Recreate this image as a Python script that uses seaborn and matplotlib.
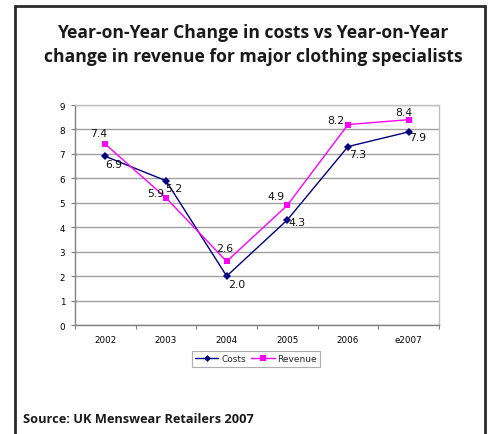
import matplotlib
matplotlib.use("Agg")
import matplotlib.pyplot as plt
import matplotlib.patches as mpatches
from matplotlib.lines import Line2D
import pandas as pd
import seaborn as sns

years = ["2002", "2003", "2004", "2005", "2006", "e2007"]
costs = [6.9, 5.9, 2.0, 4.3, 7.3, 7.9]
revenue = [7.4, 5.2, 2.6, 4.9, 8.2, 8.4]
series_names = ["Costs", "Revenue"]
y_ticks = list(range(0, 10))

title_text = ("Year-on-Year Change in costs vs Year-on-Year\n"
              "change in revenue for major clothing specialists")
source_text = "Source: UK Menswear Retailers 2007"

# label offsets in pixels (dx, dy) for each point
cost_offsets = [(8, -8), (-10, -12), (10, -8), (10, -2), (10, -7), (9, -5)]
rev_offsets = [(-7, 11), (8, 10), (-2, 13), (-11, 9), (-12, 5), (-5, 8)]

df = pd.DataFrame({
    "year": years * 2,
    "value": costs + revenue,
    "series": [series_names[0]] * len(years) + [series_names[1]] * len(years),
})

sns.set_theme(style="white")
plt.rcParams["font.family"] = ["DejaVu Sans"]

W, H = 492, 435
fig = plt.figure(figsize=(W / 100, H / 100), dpi=100)
ax = fig.add_axes([75 / W, 1 - 326 / H, (439 - 75) / W, (326 - 106) / H])

palette = {"Costs": "#000080", "Revenue": "#FF00FF"}
markers = {"Costs": "D", "Revenue": "s"}
sns.lineplot(data=df, x="year", y="value", hue="series", style="series",
             palette=palette, markers=markers, dashes=False, sort=False,
             linewidth=1.0, markersize=4.5, markeredgewidth=0,
             legend=False, ax=ax)
# make the diamonds a bit smaller than the squares
for ln in ax.get_lines():
    if ln.get_marker() == "D":
        ln.set_markersize(3.8)

ax.set_xlim(-0.5, len(years) - 0.5)
ax.set_ylim(0, 9)
ax.set_yticks(y_ticks)
ax.set_xticks(range(len(years)))
ax.set_xticklabels(years)
ax.set_xticks([i + 0.5 for i in range(-1, len(years))], minor=True)
ax.set_xlabel("")
ax.set_ylabel("")

ax.yaxis.grid(True, color="#a0a0a0", linewidth=1.0)
ax.set_axisbelow(True)
ax.tick_params(axis="x", which="major", length=0, labelsize=6.3, pad=7,
               colors="#000000")
ax.tick_params(axis="x", which="minor", length=3, width=0.8, color="#808080",
               bottom=True)
ax.tick_params(axis="y", length=3, width=0.8, color="#808080", labelsize=6.3,
               pad=4, left=True, labelcolor="#000000")
for side in ["left", "bottom"]:
    ax.spines[side].set_color("#808080")
    ax.spines[side].set_linewidth(1.0)
for side in ["top", "right"]:
    ax.spines[side].set_color("#c0c0c0")
    ax.spines[side].set_linewidth(1.0)

# value labels
for i, v in enumerate(costs):
    dx, dy = cost_offsets[i]
    ax.annotate(f"{v:.1f}", (i, v), xytext=(dx, dy), textcoords="offset pixels",
                ha="center", va="center", fontsize=7.8, color="#111111")
for i, v in enumerate(revenue):
    dx, dy = rev_offsets[i]
    ax.annotate(f"{v:.1f}", (i, v), xytext=(dx, dy), textcoords="offset pixels",
                ha="center", va="center", fontsize=7.8, color="#111111")

# legend
handles = [
    Line2D([], [], color=palette["Costs"], marker="D", markersize=3.5,
           markeredgewidth=0, linewidth=1.0, label="Costs"),
    Line2D([], [], color=palette["Revenue"], marker="s", markersize=4,
           markeredgewidth=0, linewidth=1.0, label="Revenue"),
]
leg = fig.legend(handles=handles, loc="center", ncol=2,
                 bbox_to_anchor=(256 / W, 1 - 360 / H), frameon=True,
                 fancybox=False, fontsize=6.5, handlelength=2.6,
                 handletextpad=0.3, columnspacing=0.6, borderpad=0.35,
                 borderaxespad=0)
leg.get_frame().set_edgecolor("#9a9a9a")
leg.get_frame().set_linewidth(0.8)

# title
fig.text(253 / W, 1 - 45 / H, title_text, ha="center", va="center",
         fontsize=12.6, fontweight="bold", family=["Open Sans", "DejaVu Sans"],
         color="#1a1a1a", linespacing=1.45)

# source note
fig.text(23 / W, 1 - 420 / H, source_text, ha="left", va="center",
         fontsize=9.2, fontweight="bold", family=["Open Sans", "DejaVu Sans"],
         color="#1a1a1a")

# outer frame
frame = mpatches.Rectangle((15 / W, -0.05), (485 - 15) / W, 1.05 - 7 / H,
                           transform=fig.transFigure, fill=False,
                           edgecolor="#2a2a2a", linewidth=2.0, clip_on=False)
fig.patches.append(frame)

fig.savefig("out.png", dpi=100)
